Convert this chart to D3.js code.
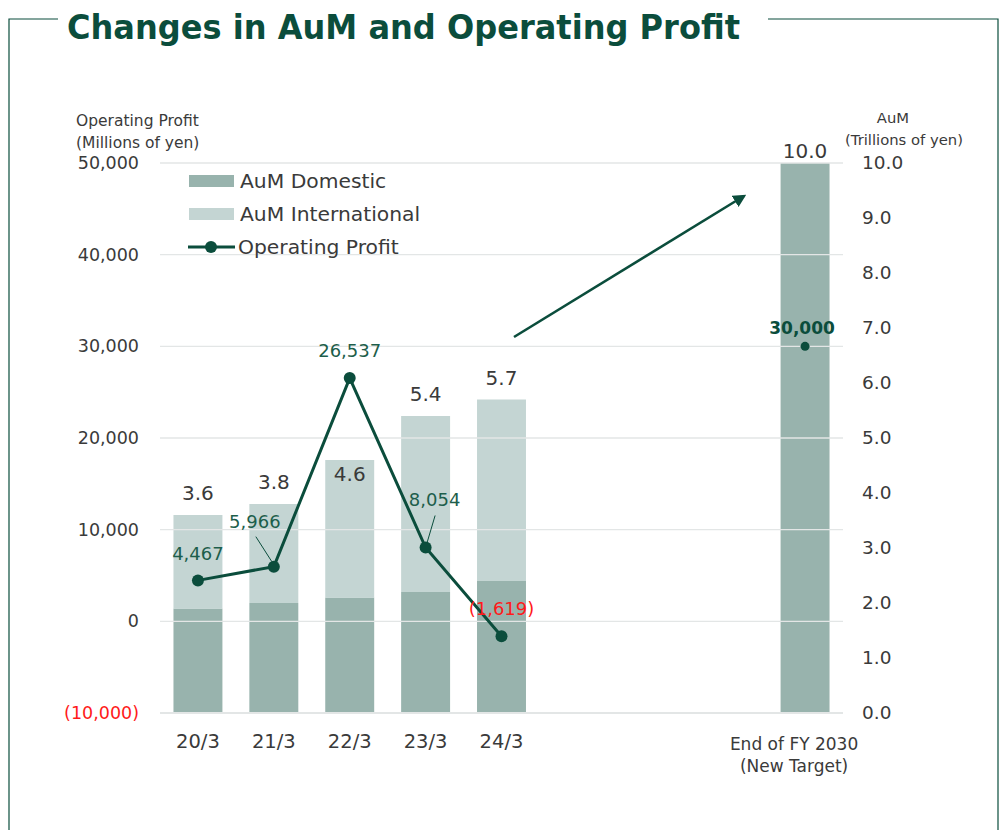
<!DOCTYPE html>
<html>
<head>
<meta charset="utf-8">
<script src="https://cdn.jsdelivr.net/npm/d3@7/dist/d3.min.js"></script>
<style>
  html, body { margin: 0; padding: 0; background: #ffffff; }
  svg { display: block; }
  text { font-family: "DejaVu Sans", sans-serif; }
</style>
</head>
<body>
<svg id="chart" width="1002" height="830"></svg>
<script>
// ---- data ----
const categories = ["20/3", "21/3", "22/3", "23/3", "24/3", "End of FY 2030"];
const slots = [0, 1, 2, 3, 4, 8];             // band slot of each category (3 empty slots before the target)
const aumDomestic = [1.9, 2.0, 2.1, 2.2, 2.4, 10.0];      // trillions of yen
const aumInternational = [1.7, 1.8, 2.5, 3.2, 3.3, 0];    // trillions of yen
const aumTotalLabels = ["3.6", "3.8", "4.6", "5.4", "5.7", "10.0"];
const operatingProfit = [4467, 5966, 26537, 8054, -1619]; // millions of yen
const targetProfit = 30000;
const leftTicks = [-10000, 0, 10000, 20000, 30000, 40000, 50000];
const rightTicks = [0, 1, 2, 3, 4, 5, 6, 7, 8, 9, 10];

const GREEN = "#0b4d3c";
const DOM = "#98b3ad";
const INTL = "#c4d5d3";
const RED = "#ff1a1a";
const GREY_TEXT = "#3a3a3a";

const svg = d3.select("#chart");

// ---- frame + title ----
const frame = svg.append("g").attr("stroke", GREEN).attr("stroke-width", 1.2).attr("fill", "none");
frame.append("path").attr("d", "M9,830 V19 H58");
frame.append("path").attr("d", "M768,19 H998 V830");

svg.append("text")
  .attr("x", 67).attr("y", 39)
  .attr("fill", GREEN)
  .attr("font-size", 34).attr("font-weight", "bold")
  .attr("textLength", 673).attr("lengthAdjust", "spacingAndGlyphs")
  .text("Changes in AuM and Operating Profit");

// ---- scales ----
const plotLeft = 160, plotRight = 843, plotTop = 163, plotBottom = 713;
const x = d3.scaleBand().domain(d3.range(9)).range([plotLeft, plotRight])
  .paddingInner(0.355).paddingOuter(0.1775);
const yL = d3.scaleLinear().domain([-10000, 50000]).range([plotBottom, plotTop]);
const yR = d3.scaleLinear().domain([0, 10]).range([plotBottom, plotTop]);
const fmt = d3.format(",");
const fmtProfit = v => v < 0 ? "(" + fmt(-v) + ")" : fmt(v);

// ---- bars ----
const bars = svg.append("g");
categories.forEach((c, i) => {
  const bx = x(slots[i]);
  bars.append("rect")
    .attr("x", bx).attr("width", x.bandwidth())
    .attr("y", yR(aumDomestic[i])).attr("height", yR(0) - yR(aumDomestic[i]))
    .attr("fill", DOM);
  if (aumInternational[i] > 0) {
    bars.append("rect")
      .attr("x", bx).attr("width", x.bandwidth())
      .attr("y", yR(aumDomestic[i] + aumInternational[i]))
      .attr("height", yR(aumDomestic[i]) - yR(aumDomestic[i] + aumInternational[i]))
      .attr("fill", INTL);
  }
});

// ---- gridlines (drawn over the bars) ----
svg.append("g").selectAll("line").data(leftTicks).join("line")
  .attr("x1", plotLeft).attr("x2", plotRight)
  .attr("y1", d => yL(d)).attr("y2", d => yL(d))
  .attr("stroke", "#e3e6e6").attr("stroke-width", d => d === -10000 ? 2 : 1.4);

// ---- left axis ----
const leftAxis = d3.axisLeft(yL).tickValues(leftTicks).tickSize(0).tickPadding(0).tickFormat(fmtProfit);
const gL = svg.append("g").attr("transform", "translate(139,0)").call(leftAxis);
gL.select(".domain").remove();
gL.selectAll("text")
  .attr("font-size", 17.5)
  .attr("fill", d => d < 0 ? RED : GREY_TEXT)
  .attr("font-family", "DejaVu Sans, sans-serif");

svg.append("text").attr("x", 76).attr("y", 126).attr("font-size", 15.5).attr("fill", GREY_TEXT).text("Operating Profit");
svg.append("text").attr("x", 76).attr("y", 148).attr("font-size", 15.5).attr("fill", GREY_TEXT).text("(Millions of yen)");

// ---- right axis ----
const rightAxis = d3.axisRight(yR).tickValues(rightTicks).tickSize(0).tickPadding(0).tickFormat(d3.format(".1f"));
const gR = svg.append("g").attr("transform", "translate(862,0)").call(rightAxis);
gR.select(".domain").remove();
gR.selectAll("text")
  .attr("font-size", 18.5).attr("fill", GREY_TEXT)
  .attr("font-family", "DejaVu Sans, sans-serif");

svg.append("text").attr("x", 893).attr("y", 123).attr("text-anchor", "middle").attr("font-size", 14.8).attr("fill", GREY_TEXT).text("AuM");
svg.append("text").attr("x", 904).attr("y", 145).attr("text-anchor", "middle").attr("font-size", 14.8).attr("fill", GREY_TEXT).text("(Trillions of yen)");

// ---- x axis labels ----
const gX = svg.append("g");
categories.forEach((c, i) => {
  const cx = x(slots[i]) + x.bandwidth() / 2;
  if (i < 5) {
    gX.append("text").attr("x", cx).attr("y", 748).attr("text-anchor", "middle")
      .attr("font-size", 19.5).attr("fill", GREY_TEXT).text(c);
  } else {
    gX.append("text").attr("x", cx - 11).attr("y", 750).attr("text-anchor", "middle")
      .attr("font-size", 17).attr("fill", GREY_TEXT).text(c);
    gX.append("text").attr("x", cx - 11).attr("y", 772).attr("text-anchor", "middle")
      .attr("font-size", 17).attr("fill", GREY_TEXT).text("(New Target)");
  }
});

// ---- AuM total labels ----
categories.forEach((c, i) => {
  const cx = x(slots[i]) + x.bandwidth() / 2;
  const top = yR(aumDomestic[i] + aumInternational[i]);
  // the 22/3 label sits just inside the bar, clear of the profit line peak
  const ty = i === 2 ? top + 21 : (i === 5 ? top - 5 : top - 15);
  svg.append("text").attr("x", cx).attr("y", ty).attr("text-anchor", "middle")
    .attr("font-size", 20).attr("fill", GREY_TEXT).text(aumTotalLabels[i]);
});

// ---- operating profit line ----
const pts = operatingProfit.map((v, i) => [x(slots[i]) + x.bandwidth() / 2, yL(v)]);
svg.append("path").attr("d", d3.line()(pts))
  .attr("fill", "none").attr("stroke", GREEN).attr("stroke-width", 3);
svg.append("g").selectAll("circle").data(pts).join("circle")
  .attr("cx", d => d[0]).attr("cy", d => d[1]).attr("r", 6).attr("fill", GREEN);

// value labels with optional leader lines
const labelSpecs = [
  { dx: 0, dy: -20, leader: null },
  { dx: -19, dy: -39, leader: [-18, -30, -2, -5] },
  { dx: 0, dy: -21, leader: null },
  { dx: 9, dy: -42, leader: [9.5, -32, 1.5, -5] },
  { dx: 0, dy: -21, leader: null }
];
operatingProfit.forEach((v, i) => {
  const [px, py] = pts[i];
  const s = labelSpecs[i];
  svg.append("text").attr("x", px + s.dx).attr("y", py + s.dy).attr("text-anchor", "middle")
    .attr("font-size", 18).attr("fill", v < 0 ? RED : "#1d5e4b").text(fmtProfit(v));
  if (s.leader) {
    svg.append("line")
      .attr("x1", px + s.leader[0]).attr("y1", py + s.leader[1])
      .attr("x2", px + s.leader[2]).attr("y2", py + s.leader[3])
      .attr("stroke", GREEN).attr("stroke-width", 1);
  }
});

// target profit point
const tx = x(slots[5]) + x.bandwidth() / 2;
svg.append("circle").attr("cx", tx).attr("cy", yL(targetProfit)).attr("r", 4.5).attr("fill", GREEN);
svg.append("text").attr("x", tx - 3).attr("y", yL(targetProfit) - 12).attr("text-anchor", "middle")
  .attr("font-size", 17).attr("font-weight", "bold").attr("fill", GREEN).text(fmt(targetProfit));

// ---- growth arrow ----
const defs = svg.append("defs");
defs.append("marker").attr("id", "arrowHead").attr("viewBox", "0 0 10 10")
  .attr("refX", 8).attr("refY", 5).attr("markerWidth", 5).attr("markerHeight", 5)
  .attr("orient", "auto")
  .append("path").attr("d", "M0,0 L10,5 L0,10 z").attr("fill", GREEN);
svg.append("line").attr("x1", 514).attr("y1", 337).attr("x2", 744).attr("y2", 196)
  .attr("stroke", GREEN).attr("stroke-width", 2.6).attr("marker-end", "url(#arrowHead)");

// ---- legend ----
const lg = svg.append("g");
lg.append("rect").attr("x", 189).attr("y", 175).attr("width", 45).attr("height", 12).attr("fill", DOM);
lg.append("text").attr("x", 240).attr("y", 188).attr("font-size", 20.3).attr("fill", GREY_TEXT).text("AuM Domestic");
lg.append("rect").attr("x", 189).attr("y", 208).attr("width", 45).attr("height", 12).attr("fill", INTL);
lg.append("text").attr("x", 240).attr("y", 221).attr("font-size", 20.3).attr("fill", GREY_TEXT).text("AuM International");
lg.append("line").attr("x1", 188).attr("x2", 235).attr("y1", 247).attr("y2", 247).attr("stroke", GREEN).attr("stroke-width", 3);
lg.append("circle").attr("cx", 211).attr("cy", 247).attr("r", 6).attr("fill", GREEN);
lg.append("text").attr("x", 238).attr("y", 254).attr("font-size", 20.3).attr("fill", GREY_TEXT).text("Operating Profit");
</script>
</body>
</html>
